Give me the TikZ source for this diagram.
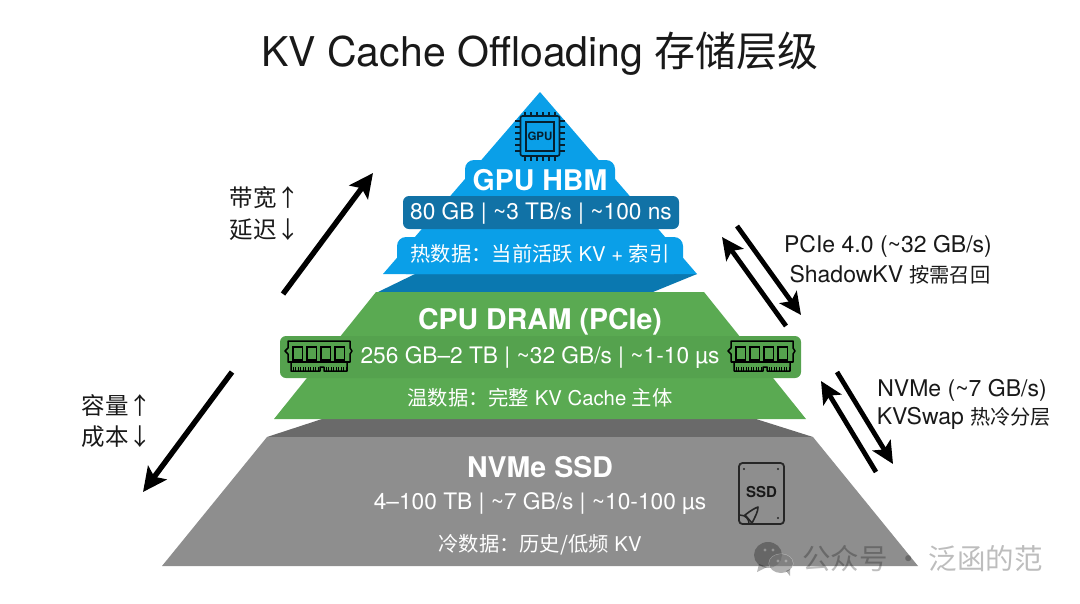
\documentclass[tikz,border=0pt]{standalone}
\usepackage{fontspec}
\setmainfont{TeX Gyre Heros}
\newfontfamily\cjk{Noto Sans CJK SC}
\newfontfamily\cjksmall[Scale=0.88]{Noto Sans CJK SC}
\usetikzlibrary{arrows.meta}
\definecolor{mblue}{HTML}{0A9FE8}
\definecolor{mbluedark}{HTML}{0A78B0}
\definecolor{mbluebox}{HTML}{1172A6}
\definecolor{mgreen}{HTML}{5AAA52}
\definecolor{mgreenbox}{HTML}{55A24E}
\definecolor{mgray}{HTML}{8E8E8E}
\definecolor{mgraydark}{HTML}{6A6A6A}
\definecolor{iconline}{HTML}{06202F}
\newcommand{\cn}[1]{{\cjk #1}}
\newcommand{\cns}[1]{{\cjksmall #1}}
\newcommand{\fcolon}{\char"FF1A\relax}
\tikzset{
  tiertitle/.style = {text=white, inner sep=0, font=\fontsize{28.5}{30}\selectfont\bfseries},
  tierstat/.style = {text=white, inner sep=0, font=\fontsize{22.7}{24}\selectfont},
  tierdesc/.style = {text=white, inner sep=0, font=\fontsize{20.3}{22}\selectfont},
  sidenote/.style = {inner sep=0, text=black!90, font=\fontsize{23}{25}\selectfont},
  trendnote/.style = {inner sep=0, text=black!90, font=\fontsize{23.5}{26}\selectfont},
  bigarrow/.style = {line width=5.4pt, -{Stealth[length=24pt, width=23pt, inset=5pt]}},
  linkarrow/.style = {line width=4.8pt, -{Stealth[length=22pt, width=21pt, inset=5pt]}},
  ramicon/.pic = {
    \draw [line width=1.5pt, line join=round]
      (3, 0) -- (65, 0) -- (65, 7) -- (67, 10) -- (65, 13) -- (65, 21) -- (62, 21) -- (62, 30)
      -- (39, 30) -- (39, 26) -- (35, 26) -- (35, 30) -- (6, 30) -- (6, 21) -- (3, 21)
      -- (3, 13) -- (0, 10) -- (3, 7) -- cycle;
    \draw [line width=1.3pt] (3, 21) -- (65, 21);
    \foreach \x in {8, 22, 36, 50} {
      \draw [line width=1.5pt] (\x, 6) rectangle ++(9.5, 13);
    }
    \foreach \x in {8, 10.5, ..., 33} {
      \draw [line width=0.7pt] (\x, 26) -- (\x, 30);
    }
    \foreach \x in {41, 43.5, ..., 61} {
      \draw [line width=0.7pt] (\x, 26) -- (\x, 30);
    }
  },
}
\begin{document}
\begin{tikzpicture}[x=1pt, y=-1pt]
  \useasboundingbox (0, 0) rectangle (1080, 603);

  \node (title) [inner sep=0, text=black!90, font=\fontsize{41}{44}\selectfont] at (540, 54) {KV Cache Offloading \cn{存储层级}};

  % lower faces first
  \fill [mgraydark] (322, 419) -- (267, 437) -- (813, 437) -- (756, 419) -- cycle;
  \fill [mbluedark] (415, 274) -- (378, 292) -- (653, 292) -- (697, 274) -- cycle;

  % gray tier
  \fill [mgray] (267, 437) -- (813, 437) -- (918, 566) -- (162, 566) -- cycle;
  \node (ssdname) [tiertitle] at (540, 467) {NVMe SSD};
  \node (ssdstat) [tierstat] at (540, 504) {4–100 TB | \textasciitilde7 GB/s | \textasciitilde10-100 µs};
  \node (ssddesc) [tierdesc] at (540, 545) {\cn{冷数据\fcolon 历史/低频} KV};

  % green tier
  \fill [mgreen] (376, 292) -- (704, 292) -- (806, 419) -- (274, 419) -- cycle;
  \fill [mgreenbox, rounded corners=6pt] (280, 336) rectangle (801, 378);
  \node (ramname) [tiertitle] at (540, 322) {CPU DRAM (PCIe)};
  \node (ramstat) [tierstat] at (540, 358) {256 GB–2 TB | \textasciitilde32 GB/s | \textasciitilde1-10 µs};
  \node (ramdesc) [tierdesc] at (540, 398) {\cn{温数据\fcolon 完整} KV Cache \cn{主体}};
  \pic at (285, 341) {ramicon};
  \pic at (728, 341) {ramicon};

  % blue tier
  \fill [mblue] (540, 92) -- (697, 274) -- (383, 274) -- cycle;
  \fill [mblue, rounded corners=9pt] (465, 160) rectangle (615, 196);
  \fill [mblue, rounded corners=9pt] (397, 237) rectangle (683, 274);
  \fill [mbluebox, rounded corners=6pt] (403, 196) rectangle (679, 229);
  \node (gpuname) [tiertitle] at (540, 180) {GPU HBM};
  \node (gpustat) [tierstat] at (541, 213) {80 GB | \textasciitilde3 TB/s | \textasciitilde100 ns};
  \node (gpudesc) [tierdesc] at (540, 254) {\cn{热数据\fcolon 当前活跃} KV + \cn{索引}};

  % chip
  \begin{scope}[shift={(540, 136)}, draw=iconline]
    \draw [line width=1.6pt, rounded corners=2pt] (-19.5, -20) rectangle (19.5, 20);
    \draw [line width=1.6pt] (-14, -14) rectangle (14, 15);
    \node (gpuicon) [inner sep=0, text=iconline, font=\fontsize{11.5}{12}\selectfont\bfseries] at (0, 0.5) {GPU};
    \foreach \t in {-15, -9, -3, 3, 9, 15} {
      \draw [line width=1.2pt] (\t, -24) -- (\t, -20);
      \draw [line width=1.2pt] (\t, 20) -- (\t, 25);
      \draw [line width=1.2pt] (-25, \t) -- (-19.5, \t);
      \draw [line width=1.2pt] (19.5, \t) -- (25, \t);
    }
  \end{scope}

  % ssd
  \begin{scope}[shift={(739, 463)}]
    \draw [line width=1.8pt, rounded corners=3.5pt, draw=black!85] (0, 0) rectangle (45, 61);
    \node (ssdicon) [inner sep=0, text=black!90, font=\fontsize{15}{17}\selectfont\bfseries] at (22.5, 29) {SSD};
    \foreach \x/\y in {5/6, 39/6, 39/55} {
      \fill [black!85] (\x, \y) circle (1.2pt);
    }
    \draw [line width=1.6pt, draw=black!85, line join=round] (6, 52) .. controls (11, 48) and (16, 45) .. (19, 44) .. controls (19, 49) and (16, 54) .. (13, 60) -- cycle;
    \draw [line width=1.5pt, draw=black!85] (0.5, 52) .. controls (7, 52) and (10, 56) .. (10, 61);
  \end{scope}

  % trend arrows
  \coordinate (upstart) at (283, 294);
  \coordinate (upend) at (373, 173);
  \coordinate (downstart) at (232, 372);
  \coordinate (downend) at (143, 492);
  \draw [bigarrow] (upstart) -- (upend);
  \draw [bigarrow] (downstart) -- (downend);
  \node (bandwidth) [trendnote] at (265, 198) {\cn{带宽↑}};
  \node (latency) [trendnote] at (265, 230) {\cn{延迟↓}};
  \node (capacity) [trendnote] at (117, 405) {\cn{容量↑}};
  \node (cost) [trendnote] at (117, 437) {\cn{成本↓}};

  % links between tiers
  \coordinate (pciea) at (737, 226);
  \coordinate (pcieb) at (801, 315);
  \coordinate (pciec) at (786, 326);
  \coordinate (pcied) at (722, 237);
  \draw [linkarrow] (pciea) -- (pcieb);
  \draw [linkarrow] (pciec) -- (pcied);
  \coordinate (nvmea) at (837, 372);
  \coordinate (nvmeb) at (893, 464);
  \coordinate (nvmec) at (876, 472);
  \coordinate (nvmed) at (821, 381);
  \draw [linkarrow] (nvmea) -- (nvmeb);
  \draw [linkarrow] (nvmec) -- (nvmed);
  \node (pcielabel) [sidenote] at (888, 246) {PCIe 4.0 (\textasciitilde32 GB/s)};
  \node (shadowlabel) [sidenote] at (890, 275) {ShadowKV \cns{按需召回}};
  \node (nvmelabel) [sidenote] at (962, 390) {NVMe (\textasciitilde7 GB/s)};
  \node (swaplabel) [sidenote] at (964, 418) {KVSwap \cns{热冷分层}};

  % watermark
  \fill [black, opacity=0.28] (768, 555) ellipse (14 and 13);
  \fill [black, opacity=0.28] (759, 564) -- (757, 572) -- (767, 567) -- cycle;
  \fill [white, opacity=0.4] (781, 563.5) ellipse (12.5 and 10);
  \fill [black, opacity=0.3] (781, 563.5) ellipse (12 and 9.5);
  \fill [black, opacity=0.3] (786, 571) -- (790, 576) -- (790, 569) -- cycle;
  \foreach \x/\y in {765/550, 773/550, 778/561, 786/561} {
    \fill [white, opacity=0.3] (\x, \y) circle (1.6pt);
  }
  \node (watermark) [inner sep=0, anchor=west, text=black, text opacity=0.26, font=\fontsize{28.5}{30}\selectfont] at (802, 559) {\cn{公众号 · 泛函的范}};
\end{tikzpicture}
\end{document}
